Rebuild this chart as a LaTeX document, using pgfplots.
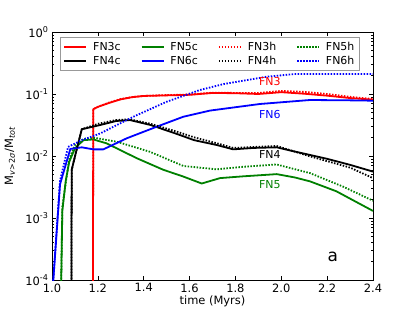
\documentclass[border=0pt]{standalone}
\usepackage{fontspec}
\setmainfont{DejaVu Sans}
\usepackage{pgfplots}
\pgfplotsset{compat=1.18}
\definecolor{mgreen}{RGB}{0,128,0}
\begin{document}
\begin{tikzpicture}
\path[use as bounding box] (0bp,0bp) rectangle (415bp,312bp);
\begin{axis}[
  at={(52bp,32bp)}, anchor=south west,
  scale only axis, width=321bp, height=248bp,
  ymode=log, xmin=1.0, xmax=2.4, ymin=1e-4, ymax=1,
  xtick={1.0,1.2,...,2.4},
  xticklabel style={/pgf/number format/.cd, fixed, fixed zerofill, precision=1, assume math mode=true},
  ytick={1e-4,1e-3,1e-2,1e-1,1},
  yticklabels={10\textsuperscript{-4},10\textsuperscript{-3},10\textsuperscript{-2},10\textsuperscript{-1},10\textsuperscript{0}},
  tick align=inside, tick pos=both,
  major tick length=4bp, minor tick length=2bp,
  tick style={black, line width=0.5bp},
  axis line style={line width=0.8bp},
  ticklabel style={font=\fontsize{11.5}{13}\selectfont},
  xlabel={time (Myrs)},
  ylabel={M\textsubscript{\textit{v}>2\textit{σ}}/M\textsubscript{\textit{tot}}},
  label style={font=\fontsize{11.5}{13}\selectfont},
  xlabel style={yshift=3bp},
  ylabel style={at={(axis description cs:-0.131,0.5)}, anchor=center},
  legend columns=4,
  legend style={at={(0.025,0.981)}, anchor=north west, draw=gray!80, line width=0.8bp,
    font=\fontsize{11}{13}\selectfont, inner sep=3bp,
    /tikz/every odd column/.append style={column sep=4bp},
    /tikz/every even column/.append style={column sep=18bp}},
  legend image code/.code={\draw[#1] (0bp,0bp) -- (22bp,0bp);},
  every axis plot/.append style={line width=1.8bp, line join=round},
]
% FN3c
\addplot[red] coordinates {(1.178,1e-5)(1.18,0.057)(1.2,0.062)(1.25,0.072)(1.3,0.082)(1.35,0.089)(1.4,0.093)(1.5,0.095)(1.6,0.097)(1.7,0.104)(1.8,0.103)(1.9,0.100)(2.0,0.107)(2.1,0.101)(2.2,0.094)(2.3,0.086)(2.4,0.081)};
\addlegendentry{FN3c}
% FN5c
\addplot[mgreen] coordinates {(1.036,1e-5)(1.045,0.0013)(1.06,0.004)(1.075,0.008)(1.10,0.0133)(1.137,0.018)(1.18,0.0185)(1.238,0.016)(1.297,0.0125)(1.37,0.0092)(1.485,0.006)(1.57,0.0047)(1.653,0.0036)(1.733,0.0044)(1.834,0.0047)(1.98,0.0051)(2.06,0.0045)(2.125,0.0039)(2.24,0.0027)(2.4,0.0013)};
\addlegendentry{FN5c}
% FN3h
\addplot[red, dash pattern=on 1.5bp off 1.5bp] coordinates {(1.178,1e-5)(1.18,0.057)(1.2,0.062)(1.25,0.073)(1.3,0.083)(1.35,0.089)(1.4,0.093)(1.5,0.096)(1.6,0.098)(1.7,0.105)(1.8,0.104)(1.9,0.104)(2.0,0.112)(2.1,0.108)(2.2,0.100)(2.3,0.090)(2.4,0.083)};
\addlegendentry{FN3h}
% FN5h
\addplot[mgreen, dash pattern=on 1.5bp off 1.5bp] coordinates {(1.036,1e-5)(1.045,0.0015)(1.075,0.009)(1.10,0.015)(1.14,0.019)(1.19,0.0195)(1.282,0.017)(1.427,0.0117)(1.573,0.0069)(1.718,0.0061)(1.834,0.0067)(1.98,0.0073)(2.125,0.0053)(2.27,0.0032)(2.4,0.0019)};
\addlegendentry{FN5h}
% FN4c
\addplot[black] coordinates {(1.084,1e-5)(1.086,0.006)(1.107,0.0125)(1.13,0.027)(1.21,0.0316)(1.28,0.0367)(1.34,0.038)(1.43,0.0316)(1.54,0.023)(1.62,0.018)(1.72,0.015)(1.79,0.0128)(1.88,0.0135)(1.98,0.0138)(2.05,0.012)(2.125,0.0104)(2.2,0.009)(2.3,0.0072)(2.4,0.0056)};
\addlegendentry{FN4c}
% FN6c
\addplot[blue] coordinates {(1.0,5e-5)(1.035,0.0035)(1.08,0.013)(1.13,0.0138)(1.18,0.0128)(1.224,0.0128)(1.326,0.0193)(1.457,0.0297)(1.573,0.043)(1.689,0.054)(1.907,0.069)(2.125,0.080)(2.3,0.079)(2.4,0.078)};
\addlegendentry{FN6c}
% FN4h
\addplot[black, dash pattern=on 1.5bp off 1.5bp] coordinates {(1.084,1e-5)(1.086,0.006)(1.107,0.0125)(1.13,0.027)(1.2,0.033)(1.28,0.038)(1.34,0.039)(1.43,0.033)(1.54,0.025)(1.62,0.020)(1.72,0.016)(1.79,0.0135)(1.98,0.0145)(2.12,0.010)(2.3,0.0065)(2.4,0.0044)};
\addlegendentry{FN4h}
% FN6h
\addplot[blue, dash pattern=on 1.5bp off 1.5bp] coordinates {(1.0,5e-5)(1.035,0.004)(1.07,0.014)(1.13,0.018)(1.209,0.023)(1.355,0.043)(1.5,0.075)(1.645,0.116)(1.75,0.145)(1.936,0.19)(2.06,0.21)(2.4,0.21)};
\addlegendentry{FN6h}
\node[red, font=\fontsize{11}{13}\selectfont] at (axis cs:1.95,0.158) {FN3};
\node[blue, font=\fontsize{11}{13}\selectfont] at (axis cs:1.95,0.046) {FN6};
\node[black, font=\fontsize{11}{13}\selectfont] at (axis cs:1.95,0.0104) {FN4};
\node[mgreen, font=\fontsize{11}{13}\selectfont] at (axis cs:1.95,0.0035) {FN5};
\node[black, font=\fontsize{17}{19}\selectfont] at (axis cs:2.225,2.4e-4) {a};
\end{axis}
\end{tikzpicture}
\end{document}
